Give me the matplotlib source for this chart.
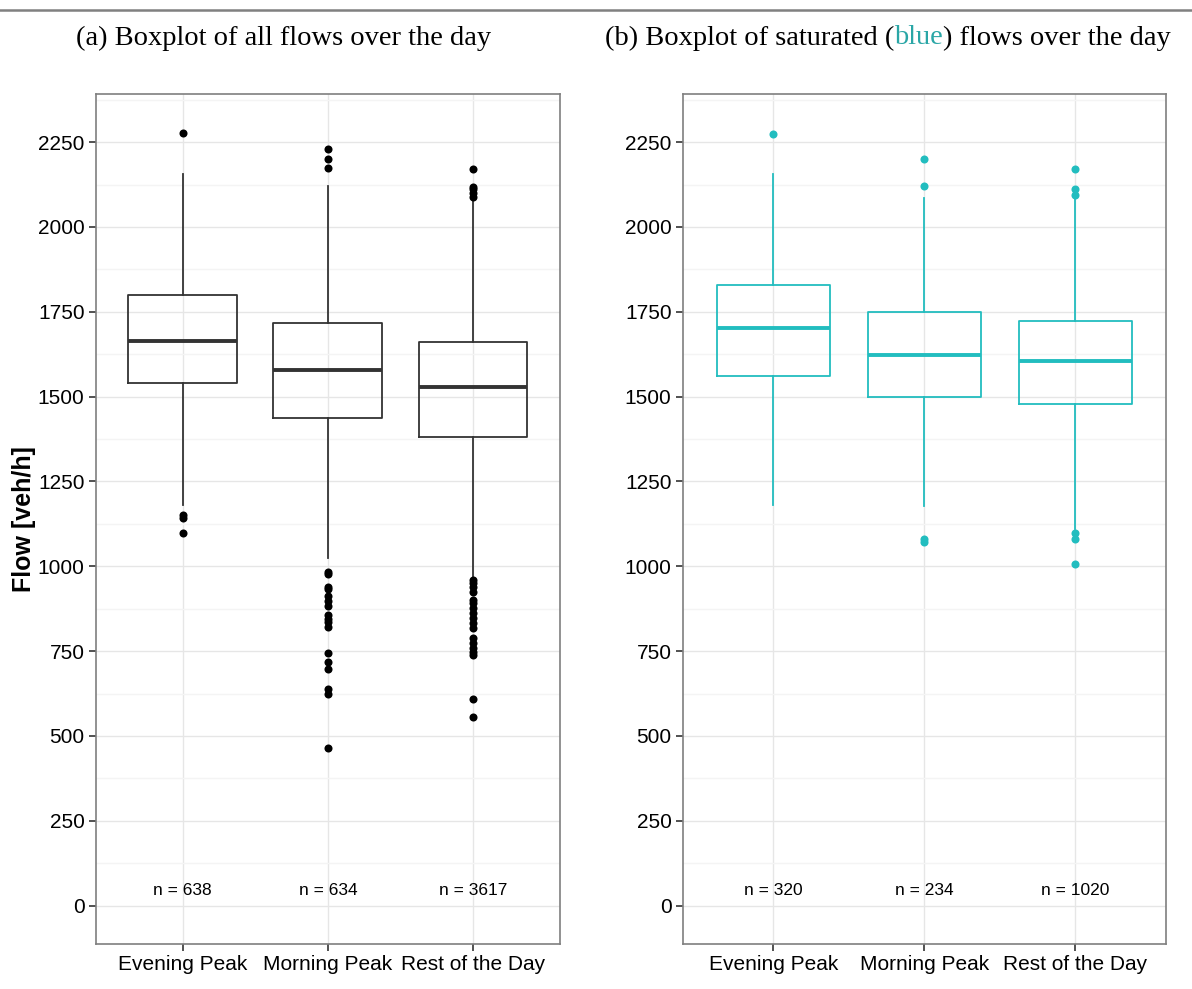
import matplotlib
matplotlib.use("Agg")
import matplotlib.pyplot as plt
from matplotlib.ticker import MultipleLocator


CATEGORIES = ["Evening Peak", "Morning Peak", "Rest of the Day"]

# panel (a): all flows
ALL_Q1 = [1541, 1438, 1382]
ALL_MED = [1665, 1577, 1529]
ALL_Q3 = [1798, 1717, 1660]
ALL_WHISLO = [1181, 1023, 969]
ALL_WHISHI = [2157, 2120, 2075]
ALL_FLIERS = [
    [2276, 1151, 1141, 1097],
    [2231, 2200, 2173, 984, 976, 938, 932, 912, 898, 883, 855, 846, 837, 820,
     743, 719, 696, 637, 623, 465],
    [2171, 2119, 2111, 2100, 2088, 960, 950, 940, 925, 901, 891, 876, 861, 847,
     832, 817, 788, 773, 758, 748, 739, 608, 557],
]
ALL_N = [638, 634, 3617]

# panel (b): saturated flows
SAT_Q1 = [1560, 1500, 1478]
SAT_MED = [1702, 1623, 1606]
SAT_Q3 = [1829, 1748, 1724]
SAT_WHISLO = [1181, 1178, 1110]
SAT_WHISHI = [2157, 2085, 2085]
SAT_FLIERS = [
    [2275],
    [2200, 2122, 1081, 1072],
    [2172, 2111, 2093, 1097, 1080, 1006],
]
SAT_N = [320, 234, 1020]

TEAL = "#22BDBF"
SANS = "Liberation Sans"
SERIF = "Liberation Serif"


def make_stats(q1, med, q3, lo, hi, fliers):
    return [
        {"q1": a, "med": m, "q3": b, "whislo": l, "whishi": h, "fliers": f}
        for a, m, b, l, h, f in zip(q1, med, q3, lo, hi, fliers)
    ]


def draw_panel(ax, stats, counts, color, point_color):
    positions = list(range(1, len(CATEGORIES) + 1))
    ax.bxp(
        stats,
        positions=positions,
        widths=0.75,
        showcaps=False,
        boxprops=dict(color=color, linewidth=1.3),
        whiskerprops=dict(color=color, linewidth=1.3),
        medianprops=dict(color=color, linewidth=2.8),
        flierprops=dict(marker="o", markersize=5.8, markerfacecolor=point_color,
                        markeredgecolor="none", linestyle="none"),
        zorder=3,
    )
    for pos, n in zip(positions, counts):
        ax.text(pos, 46, f"n = {n}", ha="center", va="center",
                fontsize=12.5, family=SANS, zorder=4)

    ax.set_xlim(0.4, 3.6)
    ax.set_ylim(-114, 2391)
    ax.set_xticks(positions)
    ax.set_xticklabels(CATEGORIES, fontsize=15, family=SANS)
    ax.yaxis.set_major_locator(MultipleLocator(250))
    ax.yaxis.set_minor_locator(MultipleLocator(125))
    ax.xaxis.set_minor_locator(plt.NullLocator())
    for label in ax.get_yticklabels():
        label.set_fontsize(15)
        label.set_family(SANS)

    ax.grid(which="major", color="#e6e6e6", linewidth=1.0, zorder=0)
    ax.grid(which="minor", axis="y", color="#f4f4f4", linewidth=1.0, zorder=0)
    ax.set_axisbelow(True)
    ax.tick_params(which="major", length=5, width=1.2, color="#333333",
                   labelcolor="black", pad=3)
    ax.tick_params(which="minor", length=0)
    for spine in ax.spines.values():
        spine.set_color("#7f7f7f")
        spine.set_linewidth(1.2)


fig = plt.figure(figsize=(11.92, 9.89), dpi=100)

ax_a = fig.add_axes([0.0803, 0.0452, 0.3895, 0.8595])
ax_b = fig.add_axes([0.5727, 0.0452, 0.4055, 0.8595])

draw_panel(ax_a, make_stats(ALL_Q1, ALL_MED, ALL_Q3, ALL_WHISLO, ALL_WHISHI, ALL_FLIERS),
           ALL_N, "#333333", "black")
draw_panel(ax_b, make_stats(SAT_Q1, SAT_MED, SAT_Q3, SAT_WHISLO, SAT_WHISHI, SAT_FLIERS),
           SAT_N, TEAL, TEAL)

ax_a.set_ylabel("Flow [veh/h]", fontsize=18, fontweight="bold", family=SANS)
ax_a.yaxis.set_label_coords(-0.128, 0.5)

# top rule and panel captions
fig.add_artist(plt.Line2D([0, 1], [1 - 9.5 / 989, 1 - 9.5 / 989],
                          color="#808080", linewidth=1.8))
cap_y = 1 - 38 / 989
fig.text(283.5 / 1192, cap_y, "(a) Boxplot of all flows over the day",
         ha="center", va="center", fontsize=20.5, family=SERIF)

parts = [("(b) Boxplot of saturated (", "black"), ("blue", "#2aa6a6"),
         (") flows over the day", "black")]
renderer = fig.canvas.get_renderer()
texts = [fig.text(0, cap_y, s, ha="left", va="center", fontsize=20.5,
                  family=SERIF, color=c) for s, c in parts]
widths = [t.get_window_extent(renderer).width / fig.bbox.width for t in texts]
x = 888 / 1192 - sum(widths) / 2
for t, w in zip(texts, widths):
    t.set_x(x)
    x += w

fig.savefig("out.png", dpi=100)
